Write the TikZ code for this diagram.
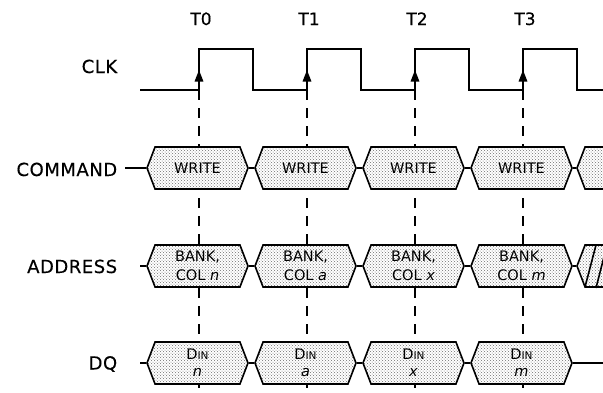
\documentclass[tikz,border=0pt]{standalone}
\usepackage{fontspec}
\setmainfont{DejaVu Sans}
\usetikzlibrary{shapes.symbols,arrows.meta,patterns}
\definecolor{dotgray}{RGB}{110,110,110}

\begin{document}
\begin{tikzpicture}[x=1pt,y=-1pt,line width=1.6pt,
        sig/.style={signal,signal to=east and west,signal pointer angle=138,
          minimum width=101pt,minimum height=42pt,inner sep=0pt,draw,
          preaction={fill=white},pattern=crosshatch dots,pattern color=dotgray,
          font=\fontsize{14.5}{19}\selectfont,align=center},
        lbl/.style={anchor=base east,inner sep=0pt,
          font=\fontsize{18}{20}\selectfont\addfontfeature{LetterSpace=3,FakeBold=0.4}},
        tlbl/.style={anchor=base,inner sep=0pt,
          font=\fontsize{17}{20}\selectfont\addfontfeature{FakeBold=0.4}},
        guide/.style={line width=1.1pt,dash pattern=on 10pt off 8pt}]
        \useasboundingbox (0,0) rectangle (603,392);
        \clip (0,0) rectangle (603,392);
        \def\ytop{49}
        \def\ylow{90}
        \foreach \k/\xe in {0/199,1/307,2/415,3/523} {
          \coordinate (e\k) at (\xe,\ylow);
          \node[tlbl] (t\k) at (\xe+2,25) {T\k};
          \draw[guide] (e\k) -- (\xe,392);
        }
        \draw (140,\ylow) \foreach \xe in {199,307,415,523} {-- (\xe,\ylow) -- (\xe,\ytop) -- (\xe+54,\ytop) -- (\xe+54,\ylow)} -- (603,\ylow);
        \foreach \k in {0,...,3} \draw[-{Triangle[width=8.5pt,length=11.5pt]}] (e\k) -- ++(0,-20);
        \node[lbl] (lclk) at (118,73) {CLK};
        \node[lbl] (lcmd) at (118,176) {COMMAND};
        \node[lbl] (ladr) at (118,273) {ADDRESS};
        \node[lbl] (ldq) at (118,369.5) {DQ};
        \foreach \k/\xe/\a/\d in {0/199/n/n,1/307/a/a,2/415/x/x,3/523/m/m} {
          \node[sig] (cmd\k) at (\xe-1.5,168) {WRITE};
          \node[sig] (adr\k) at (\xe-1.5,266) {BANK,\\COL \textit{\a}};
          \node[sig,font=\fontsize{14.5}{17}\selectfont] (dq\k) at (\xe-1.5,363) {D{\fontsize{10.5}{10}\selectfont IN}\\\textit{\d}};
        }
        \node[sig] (cmd4) at (627.5,168) {};
        \node[sig] (adr4) at (627.5,266) {};
        \draw (585,287) -- (596,245);
        \draw (596,288) -- (607,245);
        \foreach \k/\j in {0/1,1/2,2/3,3/4} {
          \draw (cmd\k.east) -- (cmd\j.west);
          \draw (adr\k.east) -- (adr\j.west);
        }
        \foreach \k/\j in {0/1,1/2,2/3} \draw (dq\k.east) -- (dq\j.west);
        \coordinate (adrin) at (140,266);
        \coordinate (dqin) at (140,363);
        \coordinate (dqout) at (603,363);
        \draw[shorten <=7pt] (lcmd.east |- cmd0.west) -- (cmd0.west);
        \draw (adrin) -- (adr0.west);
        \draw (dqin) -- (dq0.west);
        \draw (dq3.east) -- (dqout);
\end{tikzpicture}
\end{document}
